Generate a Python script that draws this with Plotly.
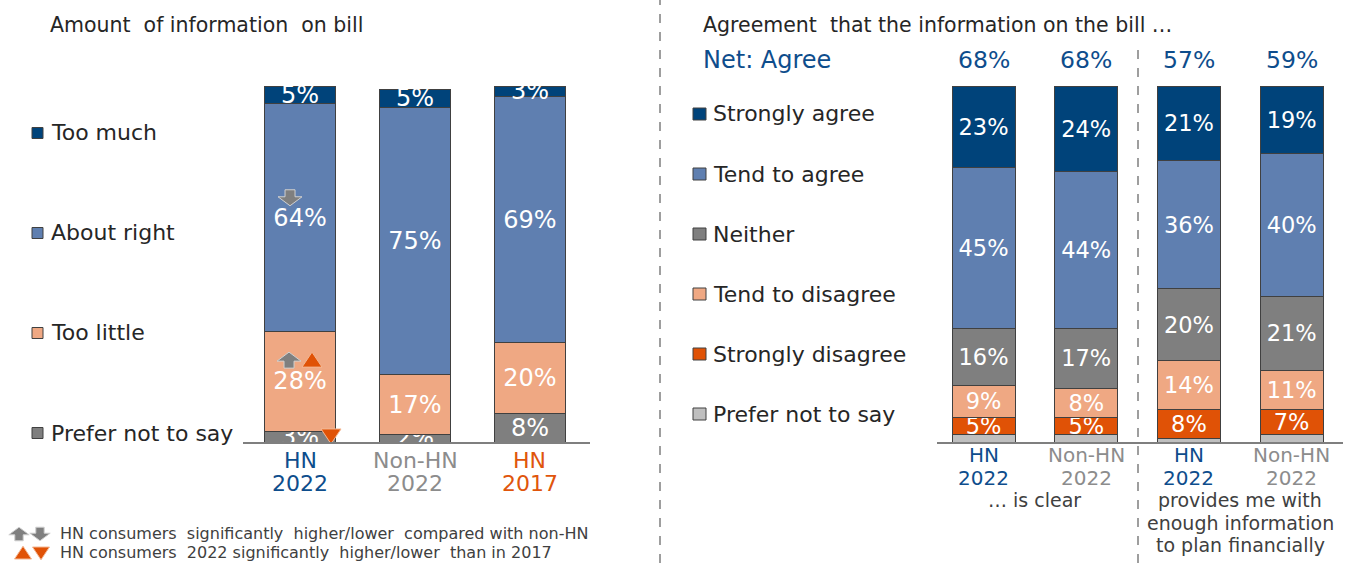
import plotly.graph_objects as go

# ---------------- data ----------------
left_categories = ["HN 2022", "Non-HN 2022", "HN 2017"]
left_series = ["Prefer not to say", "Too little", "About right", "Too much"]  # stacked bottom -> top
left_prefer = [3, 2, 8]
left_too_little = [28, 17, 20]
left_about_right = [64, 75, 69]
left_too_much = [5, 5, 3]

right_positions = [0, 1, 2, 3]
right_groups = ["HN 2022", "Non-HN 2022", "HN 2022", "Non-HN 2022"]
right_statements = ["… is clear", "provides me with|enough information|to plan financially"]
right_series = ["Prefer not to say", "Strongly disagree", "Tend to disagree",
                "Neither", "Tend to agree", "Strongly agree"]  # stacked bottom -> top
right_prefer = [2, 2, 1, 2]
right_strongly_disagree = [5, 5, 8, 7]
right_tend_disagree = [9, 8, 14, 11]
right_neither = [16, 17, 20, 21]
right_tend_agree = [45, 44, 36, 40]
right_strongly_agree = [23, 24, 21, 19]

footnotes = ["HN consumers  significantly  higher/lower  compared with non-HN",
             "HN consumers  2022 significantly  higher/lower  than in 2017"]

# ---------------- style ----------------
FONT = "DejaVu Sans"
W, H = 1356, 563
NAVY = "#00437A"
LBLUE = "#5F7FB0"
GREY = "#7F7F7F"
PEACH = "#EFA883"
ORANGE = "#E05206"
LGREY = "#BFBFBF"
TXT = "#262626"
BLUE_TXT = "#0E4D8C"
GREY_TXT = "#8C8C8C"
ORANGE_TXT = "#E0550C"
group_colors = {"HN 2022": BLUE_TXT, "Non-HN 2022": GREY_TXT, "HN 2017": ORANGE_TXT}


def px(x):
    return x / W


def py(y):
    return 1 - y / H


left_values = [left_prefer, left_too_little, left_about_right, left_too_much]
left_colors = [GREY, PEACH, LBLUE, NAVY]
right_values = [right_prefer, right_strongly_disagree, right_tend_disagree,
                right_neither, right_tend_agree, right_strongly_agree]
right_colors = [LGREY, ORANGE, PEACH, GREY, LBLUE, NAVY]

fig = go.Figure()

for name, vals, col in zip(left_series, left_values, left_colors):
    fig.add_bar(
        x=left_categories, y=vals, name=name, width=0.61,
        marker=dict(color=col, line=dict(color="#404040", width=1)),
        text=[f"{v}%" for v in vals], textposition="inside", insidetextanchor="middle",
        textangle=0, constraintext="none", cliponaxis=True,
        textfont=dict(family=FONT, size=24, color="white"),
        xaxis="x", yaxis="y", showlegend=False, hoverinfo="name+y",
    )

for name, vals, col in zip(right_series, right_values, right_colors):
    labels = ["" if name == "Prefer not to say" else f"{v}%" for v in vals]
    fig.add_bar(
        x=right_positions, y=vals, name=name, width=0.613,
        marker=dict(color=col, line=dict(color="#404040", width=1)),
        text=labels, textposition="inside", insidetextanchor="middle",
        textangle=0, constraintext="none", cliponaxis=True,
        textfont=dict(family=FONT, size=22.5, color="white"),
        xaxis="x2", yaxis="y2", showlegend=False, hoverinfo="name+y",
    )

annotations = []
shapes = []


def note(text, x, y, size, color=TXT, anchor="left", xref="paper"):
    annotations.append(dict(
        text=text, x=x, y=py(y), xref=xref, yref="paper", xanchor=anchor,
        yanchor="middle", showarrow=False, font=dict(family=FONT, size=size, color=color)))


# titles
note("Amount  of information  on bill", px(48), 25, 20.5)
note("Agreement  that the information on the bill …", px(701), 25, 20.5)
note("Net: Agree", px(701), 60, 24, BLUE_TXT)

# net agree values above right bars
for pos, g, sa, ta in zip(right_positions, right_groups, right_strongly_agree, right_tend_agree):
    note(f"{sa + ta}%", pos, 60, 23.5, BLUE_TXT, anchor="center", xref="x2")

# legends (drawn top -> bottom)
for i, (name, col) in enumerate(zip(left_series[::-1], left_colors[::-1])):
    yc = 133 + 100 * i
    shapes.append(dict(type="rect", xref="paper", yref="paper", x0=px(32), x1=px(43),
                       y0=py(yc + 5.5), y1=py(yc - 5.5), fillcolor=col,
                       line=dict(color="#404040", width=1)))
    note(name, px(49), yc, 22)

for i, (name, col) in enumerate(zip(right_series[::-1], right_colors[::-1])):
    yc = 114 + 60 * i
    shapes.append(dict(type="rect", xref="paper", yref="paper", x0=px(693), x1=px(706),
                       y0=py(yc + 6), y1=py(yc - 6), fillcolor=col,
                       line=dict(color="#404040", width=1)))
    note(name, px(711), yc, 22)

# category labels
for cat in left_categories:
    l1, l2 = cat.split(" ")
    note(l1, cat, 460, 22, group_colors[cat], anchor="center", xref="x")
    note(l2, cat, 483, 22, group_colors[cat], anchor="center", xref="x")

for pos, g in zip(right_positions, right_groups):
    l1, l2 = g.split(" ")
    note(l1, pos, 455, 20, group_colors[g], anchor="center", xref="x2")
    note(l2, pos, 478, 20, group_colors[g], anchor="center", xref="x2")

for k, stmt in enumerate(right_statements):
    for j, line in enumerate(stmt.split("|")):
        note(line, 2 * k + 0.5, 500 + 22.5 * j, 19, "#404040", anchor="center", xref="x2")

# footnotes
note(footnotes[0], px(58), 533, 16, "#404040")
note(footnotes[1], px(58), 552, 16, "#404040")


# significance markers
def block_arrow(direction, s=1.0, dx=0.0):
    sign = 1 if direction == "up" else -1
    pts = [(-5, -8), (5, -8), (5, -1), (12, -1), (0, 8), (-12, -1), (-5, -1)]
    return "M " + " L ".join(f"{dx + x * s:.1f},{sign * y * s:.1f}" for x, y in pts) + " Z"


def triangle(direction, s=1.0, dx=0.0):
    sign = 1 if direction == "up" else -1
    pts = [(-10, -7), (10, -7), (0, 8)]
    return "M " + " L ".join(f"{dx + x * s:.1f},{sign * y * s:.1f}" for x, y in pts) + " Z"


def marker_shape(path, fill, line, xref, x, yref, y):
    shapes.append(dict(type="path", path=path, xref=xref, yref=yref,
                       xsizemode="pixel", ysizemode="pixel", xanchor=x, yanchor=y,
                       fillcolor=fill, line=dict(color=line, width=1)))


# (category, level %, kind, direction, pixel offset)
sig_marks = [
    ("HN 2022", 68.6, "arrow", "down", -10),
    ("HN 2022", 23.0, "arrow", "up", -11),
    ("HN 2022", 23.0, "tri", "up", 12),
    ("HN 2022", 1.7, "tri", "down", 31),
]
for cat, lvl, kind, d, off in sig_marks:
    if kind == "arrow":
        marker_shape(block_arrow(d, 1.0, off), GREY, "#D0D0D0", "x", cat, "y", lvl)
    else:
        marker_shape(triangle(d, 1.0, off), ORANGE, "#F4B894", "x", cat, "y", lvl)

marker_shape(block_arrow("up", 0.85), GREY, "#D0D0D0", "paper", px(19), "paper", py(534))
marker_shape(block_arrow("down", 0.85), GREY, "#D0D0D0", "paper", px(40), "paper", py(534))
marker_shape(triangle("up", 0.85), ORANGE, "#F4B894", "paper", px(23), "paper", py(553))
marker_shape(triangle("down", 0.85), ORANGE, "#F4B894", "paper", px(41), "paper", py(553))

# dashed separators
shapes.append(dict(type="line", xref="paper", yref="paper", x0=px(660), x1=px(660),
                   y0=0, y1=1, line=dict(color=GREY, width=1.5, dash="dash")))
shapes.append(dict(type="line", xref="paper", yref="paper", x0=px(1138), x1=px(1138),
                   y0=0, y1=py(45), line=dict(color=GREY, width=1.5, dash="dash")))

y_dom = [py(442), py(86)]
axis_common = dict(showline=True, linecolor=GREY, linewidth=1.5, showticklabels=False,
                   ticks="", showgrid=False, zeroline=False, fixedrange=True)

fig.update_layout(
    width=W, height=H, margin=dict(l=0, r=0, t=0, b=0),
    paper_bgcolor="white", plot_bgcolor="white", barmode="stack",
    font=dict(family=FONT, color=TXT),
    xaxis=dict(domain=[px(243), px(590)], range=[-0.496, 2.522], anchor="y", **axis_common),
    yaxis=dict(domain=y_dom, range=[0, 100], visible=False, anchor="x", fixedrange=True),
    xaxis2=dict(domain=[px(937), px(1343)], range=[-0.453, 3.5], anchor="y2", **axis_common),
    yaxis2=dict(domain=y_dom, range=[0, 100], visible=False, anchor="x2", fixedrange=True),
    annotations=annotations, shapes=shapes,
)

fig.write_html("out.html")
